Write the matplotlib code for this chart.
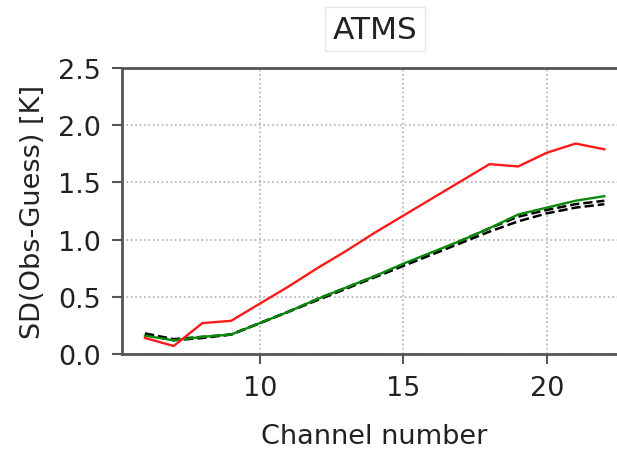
import matplotlib
matplotlib.use("Agg")
import matplotlib.pyplot as plt

# channel numbers and SD(Obs-Guess) values
channels = list(range(6, 23))
sd_red = [0.14, 0.07, 0.27, 0.29, 0.44, 0.59, 0.75, 0.90, 1.06, 1.21,
          1.36, 1.51, 1.66, 1.64, 1.76, 1.84, 1.79]
sd_green = [0.16, 0.12, 0.15, 0.17, 0.27, 0.37, 0.48, 0.58, 0.68, 0.79,
            0.89, 0.99, 1.10, 1.22, 1.28, 1.34, 1.38]
sd_black1 = [0.18, 0.13, 0.15, 0.17, 0.27, 0.37, 0.48, 0.58, 0.68, 0.78,
             0.88, 0.99, 1.10, 1.20, 1.26, 1.31, 1.34]
sd_black2 = [0.17, 0.12, 0.14, 0.17, 0.27, 0.37, 0.47, 0.57, 0.67, 0.77,
             0.87, 0.97, 1.07, 1.16, 1.23, 1.28, 1.31]

xticks = [10, 15, 20]
yticks = [0.0, 0.5, 1.0, 1.5, 2.0, 2.5]

fig = plt.figure(figsize=(6.17, 4.56), dpi=100)
ax = fig.add_axes([0.1977, 0.2215, 0.819, 0.627])

ax.plot(channels, sd_black1, color='black', linestyle='--', linewidth=1.8)
ax.plot(channels, sd_black2, color='black', linestyle='--', linewidth=1.8)
ax.plot(channels, sd_green, color='#0a8a0a', linewidth=1.7)
ax.plot(channels, sd_red, color='#ff1a1a', linewidth=1.7)

ax.set_ylim(0, 2.5)
ax.set_xticks(xticks)
ax.set_yticks(yticks)
ax.set_yticklabels([f"{v:.1f}" for v in yticks])
ax.grid(True, linestyle=':', color='#b0b0b0', linewidth=1.2)

for s in ax.spines.values():
    s.set_color('#555555')
    s.set_linewidth(2)
ax.tick_params(direction='out', length=7, width=1.5, color='#555555',
               labelsize=19.5, labelcolor='#222222', pad=8)

ax.set_xlabel('Channel number', fontsize=19.5, labelpad=16, color='#222222')
ax.set_ylabel('SD(Obs-Guess) [K]', fontsize=19.5, labelpad=9, color='#222222')
ax.set_title('ATMS', fontsize=22.5, pad=22, color='#222222',
             bbox=dict(facecolor='white', edgecolor='#e6e6e6', pad=5.5))

fig.savefig('out.png', dpi=100)
